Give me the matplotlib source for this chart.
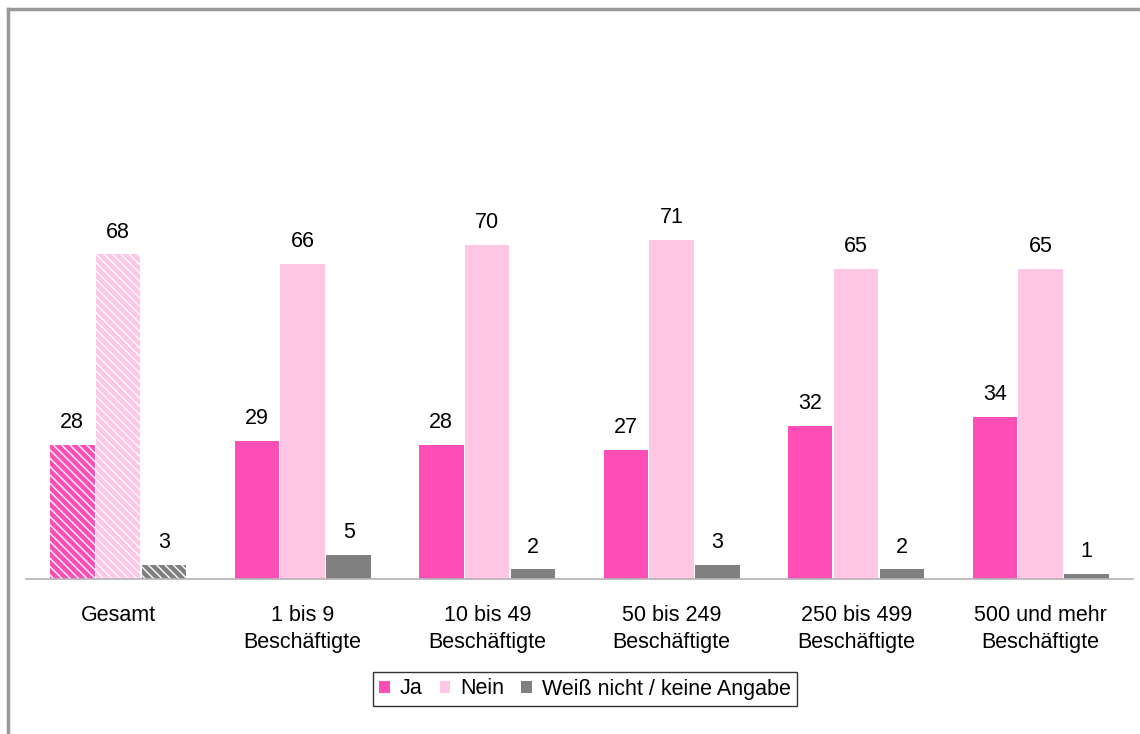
import matplotlib
matplotlib.use("Agg")
import matplotlib.pyplot as plt
import numpy as np

categories = ["Gesamt", "1 bis 9\nBeschäftigte", "10 bis 49\nBeschäftigte",
              "50 bis 249\nBeschäftigte", "250 bis 499\nBeschäftigte",
              "500 und mehr\nBeschäftigte"]
ja = [28, 29, 28, 27, 32, 34]
nein = [68, 66, 70, 71, 65, 65]
weiss = [3, 5, 2, 3, 2, 1]
series_names = ["Ja", "Nein", "Weiß nicht / keine Angabe"]
colors = ["#FF4FB6", "#FFC6E6", "#808080"]

plt.rcParams['font.family'] = ['Liberation Sans', 'DejaVu Sans']
plt.rcParams['hatch.linewidth'] = 1.0
fs = 15.5

fig = plt.figure(figsize=(11.4, 7.34), dpi=100)
ax = fig.add_axes([0.0228, 0.2112, 0.971, 0.748])

x = np.arange(len(categories))
w = 0.241
step = 0.249
for i, (vals, name, col) in enumerate(zip([ja, nein, weiss], series_names, colors)):
    pos = x + (i - 1) * step
    bars = ax.bar(pos, vals, width=w, color=col, label=name, linewidth=0)
    # Gesamt bars are hatched
    bars[0].set_hatch('\\\\\\\\')
    bars[0].set_edgecolor('white')
    for p, v in zip(pos, vals):
        ax.annotate(str(v), (p, v), xytext=(0, 8.5), textcoords='offset points',
                    ha='center', va='bottom', fontsize=fs)

ax.set_xlim(-0.5, len(categories) - 0.5)
ax.set_ylim(0, 115)
ax.set_yticks([])
ax.set_xticks(x)
ax.set_xticklabels(categories, fontsize=fs, linespacing=1.42)
ax.tick_params(axis='x', length=0, pad=18.5)
for s in ['top', 'left', 'right']:
    ax.spines[s].set_visible(False)
ax.spines['bottom'].set_color('#b4b4b4')
ax.spines['bottom'].set_linewidth(1.2)

leg = ax.legend(loc='center', bbox_to_anchor=(585 / 1140, 1 - 689 / 734),
                bbox_transform=fig.transFigure, ncol=3, fontsize=fs,
                frameon=True, fancybox=False, handlelength=0.5, handleheight=0.5,
                handletextpad=0.45, columnspacing=0.8, borderpad=0.3)
leg.get_frame().set_edgecolor('black')
leg.get_frame().set_linewidth(1.0)
for h in leg.legend_handles:
    h.set_hatch(None)

# outer frame (top and left only visible)
fig.add_artist(plt.Line2D([7.5 / 1140, 7.5 / 1140], [0, 1 - 9 / 734],
                          transform=fig.transFigure, color='#999999', lw=2.5))
fig.add_artist(plt.Line2D([7.5 / 1140, 1], [1 - 9 / 734, 1 - 9 / 734],
                          transform=fig.transFigure, color='#999999', lw=2.5))

fig.savefig("out.png", dpi=100)
